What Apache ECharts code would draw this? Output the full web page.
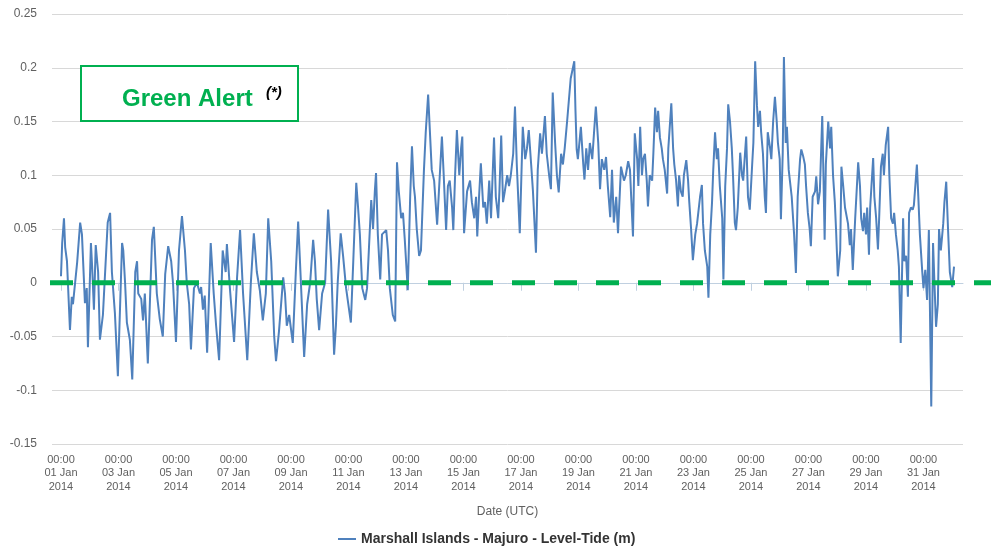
<!DOCTYPE html>
<html>
<head>
<meta charset="utf-8">
<script src="https://cdn.jsdelivr.net/npm/echarts@6/dist/echarts.min.js"></script>
<style>
  html, body { margin: 0; padding: 0; background: #fff; }
  #chart { width: 991px; height: 547px; }
</style>
</head>
<body>
<div id="chart"></div>
<script>
  // hours since 01 Jan 2014 00:00 UTC
  var hours = [
    0, 1, 2.5, 3.5, 5, 7.5, 9, 10, 13.5, 16,
    17.5, 20, 21.5, 22.5, 25, 26, 27.5, 29, 31, 32.5,
    35, 39, 41, 42.5, 45, 47.5, 51, 52, 53.5, 55,
    57.5, 59.5, 62, 63.5, 64.5, 67, 68.5, 70, 72.5, 76,
    77.5, 80, 82.5, 85, 87, 89.5, 92, 93.5, 96, 98.5,
    101, 103.5, 105, 107, 108.5, 111, 113.5, 116, 117, 118.5,
    120, 122, 125, 127.5, 129.5, 132, 135, 137.5, 138.5, 141,
    144.5, 147, 149.5, 152, 155.5, 158.5, 161, 163.5, 166, 168.5,
    171, 173, 175.5, 178, 179.5, 182, 185.5, 187, 188.5, 190.5,
    193.5, 196, 198, 199.5, 203, 205.5, 208, 210.5, 212, 213.5,
    215.5, 218, 220.5, 223, 225.5, 228, 229.5, 231, 233.5, 235.5,
    238, 242, 244, 246.5, 248, 249.5, 251.5, 254, 255.5, 257,
    259, 260.5, 262, 263, 264.5, 266.5, 268, 271.5, 273, 274.5,
    277, 279, 280.5, 282, 284, 285.5, 287, 288.5, 289.5, 291.5,
    293, 294.5, 295.5, 297, 299, 300.5, 303, 304.5, 306.5, 308,
    309.5, 311.5, 314, 315.5, 318, 319.5, 321.5, 323, 324.5, 326.5,
    327.5, 329, 330.5, 332.5, 334, 335, 336.5, 339, 341.5, 343,
    345, 346.5, 347.5, 349, 350.5, 352.5, 354, 355.5, 357.5, 359,
    361.5, 363, 365, 366, 367.5, 369, 370.5, 372.5, 374, 375.5,
    377.5, 379, 380.5, 383, 385.5, 387.5, 389, 390.5, 392.5, 394,
    396.5, 398, 400, 401.5, 404, 405.5, 407.5, 409, 410.5, 412.5,
    414, 415.5, 417.5, 419, 420.5, 422.5, 424, 425.5, 428.5, 429.5,
    430.5, 431.5, 434, 436, 437, 438.5, 440, 441.5, 443.5, 445,
    446.5, 448.5, 450, 451.5, 453.5, 455, 456.5, 458.5, 460, 461.5,
    463.5, 465, 467.5, 470, 471.5, 473.5, 475, 476, 477.5, 479,
    481, 482, 483.5, 485, 486, 487.5, 489, 490, 491.5, 493.5,
    494.5, 496, 497.5, 498.5, 500, 501.5, 502.5, 504, 506, 507,
    508.5, 509.5, 511, 512, 513.5, 515, 516, 517.5, 519, 520,
    522, 523.5, 524.5, 526, 527.5, 529.5, 531, 532, 533.5, 535,
    536, 537.5, 539.5, 540.5, 542, 543.5, 544.5, 546, 547.5, 548.5,
    550, 552, 553, 554.5, 556, 557, 558.5, 560, 561, 562.5,
    563.5, 565, 567, 568.5, 569.5, 571, 572, 573.5, 575, 577,
    578, 579.5, 581, 582, 583.5, 584.5, 586, 587.5, 588.5, 590,
    592, 593, 594.5, 596, 597.5, 598.5, 600, 601, 602.5, 603.5,
    605, 606, 607.5, 608.5, 610, 612, 613.5, 615, 617, 618,
    619.5, 621, 622, 623.5, 625, 626, 627.5, 629.5, 630.5, 632,
    633.5, 635.5, 636.5, 637.5, 638.5, 640.5, 642, 643, 644.5, 646,
    647, 648.5, 650.5, 651.5, 653, 654.5, 655.5, 657, 658.5, 659.5,
    661, 663, 665.5, 667, 668, 669.5, 670.5, 672, 673, 674.5,
    675.5, 678, 679, 680.5, 682, 683, 684.5, 686, 687, 688.5,
    690.5, 691.5, 693, 694.5, 695.5, 697, 698.5, 699.5, 701, 703,
    704, 705.5, 707, 708, 709.5, 711, 712, 714.5, 715.5, 717,
    719, 720, 721.5, 723, 724.5, 726.5, 728, 729, 730.5, 732,
    733, 734.5, 736.5, 737.5, 739, 740.5, 742, 744, 745.5
  ];
  // sea level (m)
  var level = [
    0.006, 0.037, 0.060, 0.033, 0.020, -0.044, -0.013, -0.020, 0.019, 0.056,
    0.045, -0.019, -0.005, -0.060, 0.037, 0.015, -0.025, 0.035, 0.010, -0.053,
    -0.030, 0.056, 0.065, 0.010, -0.028, -0.087, 0.037, 0.030, 0.000, -0.037,
    -0.053, -0.090, 0.010, 0.020, -0.010, -0.015, -0.035, -0.010, -0.075, 0.040,
    0.052, -0.010, -0.034, -0.050, 0.008, 0.034, 0.020, 0.000, -0.055, 0.030,
    0.062, 0.030, 0.000, -0.020, -0.062, -0.005, 0.000, -0.010, -0.004, -0.025,
    -0.012, -0.065, 0.037, -0.010, -0.040, -0.072, 0.030, 0.010, 0.036, -0.005,
    -0.055, 0.005, 0.049, -0.010, -0.072, 0.000, 0.046, 0.010, -0.007, -0.035,
    -0.010, 0.060, 0.020, -0.050, -0.073, -0.045, 0.005, -0.010, -0.040, -0.030,
    -0.056, 0.009, 0.057, 0.020, -0.069, -0.020, 0.000, 0.040, 0.020, -0.015,
    -0.044, -0.010, 0.000, 0.068, 0.020, -0.067, -0.040, 0.000, 0.046, 0.025,
    -0.005, -0.037, 0.020, 0.093, 0.070, 0.045, -0.005, -0.016, -0.005, 0.030,
    0.077, 0.050, 0.085, 0.102, 0.045, 0.003, 0.045, 0.049, 0.030, -0.005,
    -0.030, -0.036, 0.112, 0.085, 0.060, 0.065, 0.040, 0.012, -0.007, 0.080,
    0.127, 0.090, 0.080, 0.050, 0.025, 0.030, 0.105, 0.140, 0.175, 0.140,
    0.105, 0.095, 0.054, 0.085, 0.136, 0.100, 0.049, 0.090, 0.095, 0.070,
    0.049, 0.100, 0.142, 0.100, 0.125, 0.136, 0.046, 0.085, 0.095, 0.075,
    0.060, 0.080, 0.043, 0.080, 0.111, 0.070, 0.075, 0.055, 0.095, 0.060,
    0.135, 0.080, 0.060, 0.085, 0.137, 0.075, 0.085, 0.100, 0.090, 0.100,
    0.120, 0.164, 0.110, 0.046, 0.145, 0.115, 0.125, 0.142, 0.110, 0.085,
    0.028, 0.105, 0.139, 0.120, 0.155, 0.120, 0.100, 0.087, 0.177, 0.130,
    0.100, 0.084, 0.120, 0.110, 0.125, 0.150, 0.170, 0.190, 0.206, 0.160,
    0.124, 0.115, 0.145, 0.110, 0.096, 0.125, 0.105, 0.130, 0.115, 0.140,
    0.164, 0.130, 0.087, 0.115, 0.105, 0.117, 0.090, 0.061, 0.105, 0.056,
    0.080, 0.046, 0.108, 0.095, 0.100, 0.113, 0.105, 0.080, 0.043, 0.139,
    0.115, 0.090, 0.145, 0.100, 0.115, 0.120, 0.095, 0.071, 0.100, 0.095,
    0.120, 0.163, 0.140, 0.160, 0.135, 0.125, 0.115, 0.105, 0.083, 0.125,
    0.150, 0.167, 0.125, 0.110, 0.095, 0.071, 0.100, 0.085, 0.080, 0.100,
    0.114, 0.095, 0.075, 0.050, 0.021, 0.045, 0.055, 0.065, 0.080, 0.091,
    0.055, 0.030, 0.015, -0.014, 0.045, 0.075, 0.105, 0.140, 0.115, 0.125,
    0.090, 0.060, 0.003, 0.090, 0.125, 0.166, 0.150, 0.125, 0.100, 0.056,
    0.049, 0.070, 0.121, 0.100, 0.095, 0.120, 0.136, 0.080, 0.068, 0.110,
    0.130, 0.206, 0.165, 0.145, 0.160, 0.140, 0.120, 0.080, 0.065, 0.140,
    0.125, 0.115, 0.150, 0.173, 0.150, 0.130, 0.115, 0.059, 0.120, 0.210,
    0.130, 0.145, 0.105, 0.095, 0.080, 0.045, 0.009, 0.080, 0.115, 0.124,
    0.118, 0.110, 0.090, 0.065, 0.050, 0.034, 0.080, 0.085, 0.099, 0.073,
    0.085, 0.155, 0.100, 0.040, 0.110, 0.150, 0.125, 0.145, 0.100, 0.075,
    0.050, 0.006, 0.030, 0.108, 0.090, 0.070, 0.071, 0.055, 0.035, 0.050,
    0.012, 0.060, 0.112, 0.090, 0.060, 0.048, 0.065, 0.045, 0.070, 0.026,
    0.070, 0.116, 0.080, 0.060, 0.031, 0.060, 0.108, 0.120, 0.100, 0.128,
    0.145, 0.100, 0.060, 0.055, 0.065, 0.045, 0.030, 0.015, -0.056, 0.060,
    0.020, 0.025, -0.013, 0.065, 0.070, 0.068, 0.072, 0.110, 0.085, 0.045,
    0.010, -0.005, 0.012, -0.016, 0.049, -0.115, 0.037, 0.005, -0.041, -0.020,
    0.050, 0.030, 0.055, 0.075, 0.094, 0.050, 0.010, -0.004, 0.015
  ];
  // x axis labels every 2 days
  var tickHours = [0, 48, 96, 144, 192, 240, 288, 336, 384, 432, 480, 528, 576, 624, 672, 720];
  var alertLevel = 0;
  var seriesName = 'Marshall Islands - Majuro - Level-Tide (m)';
  var alertText = 'Green Alert';

  var monthNames = ['Jan', 'Feb', 'Mar', 'Apr', 'May', 'Jun', 'Jul', 'Aug', 'Sep', 'Oct', 'Nov', 'Dec'];
  var startMs = Date.UTC(2014, 0, 1);
  function pad(n) { return (n < 10 ? '0' : '') + n; }
  function fmtTick(h) {
    var d = new Date(startMs + h * 3600000);
    return pad(d.getUTCHours()) + ':' + pad(d.getUTCMinutes()) + '\n' +
      pad(d.getUTCDate()) + ' ' + monthNames[d.getUTCMonth()] + '\n' + d.getUTCFullYear();
  }

  var points = hours.map(function (h, i) { return [h, level[i]]; });
  var font = '"Liberation Sans", Arial, sans-serif';
  var green = '#00B050';

  var chart = echarts.init(document.getElementById('chart'));
  chart.setOption({
    animation: false,
    grid: { left: 52, right: 28, top: 14, bottom: 103 },
    legend: {
      top: 527,
      left: 333,
      itemWidth: 18,
      itemHeight: 2,
      textStyle: { fontFamily: font, fontSize: 14, fontWeight: 'bold', color: '#333333' },
      data: [{ name: seriesName, icon: 'rect' }]
    },
    xAxis: {
      type: 'value',
      min: -7.5,
      max: 753,
      name: 'Date (UTC)',
      nameLocation: 'middle',
      nameGap: 62,
      nameTextStyle: { fontFamily: font, fontSize: 12, color: '#606060' },
      axisLine: { lineStyle: { color: '#C0D0E0', width: 1 } },
      axisTick: { customValues: tickHours, length: 8, lineStyle: { color: '#C0D0E0' } },
      axisLabel: {
        customValues: tickHours,
        formatter: fmtTick,
        fontFamily: font,
        fontSize: 11,
        lineHeight: 13.5,
        color: '#606060',
        margin: 9
      },
      splitLine: { show: false }
    },
    yAxis: {
      type: 'value',
      min: -0.15,
      max: 0.25,
      interval: 0.05,
      axisLine: { show: false },
      axisTick: { show: false },
      axisLabel: {
        fontFamily: font,
        fontSize: 12,
        color: '#606060',
        margin: 15,
        formatter: function (v) { return String(parseFloat(v.toFixed(2))); }
      },
      splitLine: { lineStyle: { color: '#D8D8D8', width: 1 } }
    },
    series: [{
      name: seriesName,
      type: 'line',
      data: points,
      symbol: 'none',
      showSymbol: false,
      color: '#4F81BD',
      lineStyle: { color: '#4F81BD', width: 2 }
    }]
  });

  // alert threshold dashed line and label box
  var y0 = chart.convertToPixel({ yAxisIndex: 0 }, alertLevel);
  chart.setOption({
    graphic: [
      {
        type: 'line',
        z: 10,
        shape: { x1: 50, y1: y0, x2: 991, y2: y0 },
        style: { stroke: green, lineWidth: 5, lineDash: [23, 19] }
      },
      {
        type: 'rect',
        z: 10,
        shape: { x: 81, y: 66, width: 217, height: 55 },
        style: { fill: '#ffffff', stroke: green, lineWidth: 2 }
      },
      {
        type: 'text',
        z: 11,
        x: 122,
        y: 99,
        style: { text: alertText, fill: green, font: 'bold 24px ' + font, textVerticalAlign: 'middle' }
      },
      {
        type: 'text',
        z: 11,
        x: 266,
        y: 93,
        style: { text: '(*)', fill: '#000000', font: 'italic bold 15px ' + font, textVerticalAlign: 'middle' }
      }
    ]
  });
</script>
</body>
</html>
